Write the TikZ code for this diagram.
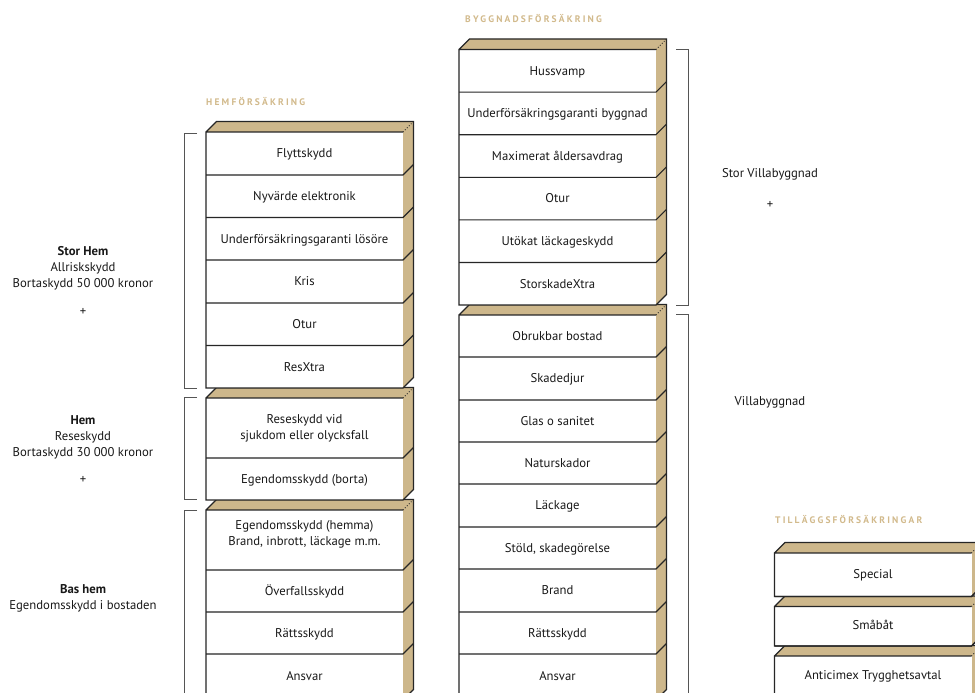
\documentclass[tikz,border=0pt]{standalone}
\usepackage{fontspec}
\setmainfont{PT Sans}
\definecolor{tanc}{RGB}{205,183,139}
\definecolor{headc}{RGB}{210,186,140}
\definecolor{edge}{RGB}{38,38,38}
\definecolor{txt}{RGB}{25,25,25}
\definecolor{brkc}{RGB}{85,85,85}
\def\boxw{197}
\def\boxd{10.5}
\newcommand\stackgrp[4]{%
  \fill[tanc] (#1,#2) -- ++(\boxd,-\boxd) -- ++(\boxw,0) -- (#1+\boxw+\boxd,#3-\boxd) -- (#1+\boxw,#3) -- (#1+\boxw,#2) -- cycle;
  \fill[white] (#1,#2) rectangle (#1+\boxw,#3);
  \foreach \s in {#4} {\draw[box] (#1,\s) -- (#1+\boxw,\s) -- ++(\boxd,-\boxd);}
  \draw[box] (#1+\boxw,#2) -- (#1,#2) -- (#1,#3) -- (#1+\boxw,#3) -- ++(\boxd,-\boxd) -- (#1+\boxw+\boxd,#2-\boxd) -- (#1+\boxd,#2-\boxd) -- (#1,#2);
  \draw[dotted,line width=0.8pt,edge] (#1+\boxw,#2) -- ++(\boxd,-\boxd);
}
\begin{document}
\begin{tikzpicture}[x=1pt,y=-1pt,
  box/.style={line width=1.1pt,draw=edge,line join=miter},
  lbl/.style={font=\fontsize{12.7}{16}\selectfont,text=txt,align=center,inner sep=0,text height=8.8,text depth=0},
  lbl2/.style={lbl,text height=24.8},
  lbl3/.style={lbl,text height=40.8},
  head/.style={font=\fontsize{9.5}{11}\selectfont\bfseries\addfontfeature{LetterSpace=23},text=headc,anchor=west,inner sep=0,text height=6.6,text depth=0},
  brk/.style={draw=brkc,line width=0.9pt}]
\useasboundingbox (0,0) rectangle (975,693);
\fill[white] (0,0) rectangle (975,693);

% Hemförsäkring stack
\stackgrp{206}{510}{700}{570,612,654}
\stackgrp{206}{398}{500}{458}
\stackgrp{206}{132}{388}{175,217.5,260,303,345.5}
% Byggnadsförsäkring stack
\stackgrp{459}{315}{700}{357,400,442,484,527,569,612,654}
\stackgrp{459}{49.5}{305}{92.1,134.7,177.3,219.9,262.5}
% Tilläggsförsäkringar
\stackgrp{774.5}{656}{700}{700}
\stackgrp{774.5}{606.5}{646}{646}
\stackgrp{774.5}{553}{596.5}{596.5}

% headings
\node[head] (hh) at (206,102) {HEMFÖRSÄKRING};
\node[head] (hb) at (465,19) {BYGGNADSFÖRSÄKRING};
\node[head] (ht) at (775,520) {TILLÄGGSFÖRSÄKRINGAR};

% Hem rows
\node[lbl] (h1) at (304.5,153.5) {Flyttskydd};
\node[lbl] (h2) at (304.5,196.2) {Nyvärde elektronik};
\node[lbl] (h3) at (304.5,238.7) {Underförsäkringsgaranti lösöre};
\node[lbl] (h4) at (304.5,281.5) {Kris};
\node[lbl] (h5) at (304.5,324.2) {Otur};
\node[lbl] (h6) at (304.5,366.7) {ResXtra};
\node[lbl2] (h7) at (304.5,427) {Reseskydd vid\\sjukdom eller olycksfall};
\node[lbl] (h8) at (304.5,479.5) {Egendomsskydd (borta)};
\node[lbl2] (h9) at (304.5,533) {Egendomsskydd (hemma)\\Brand, inbrott, läckage m.m.};
\node[lbl] (h10) at (304.5,591) {Överfallsskydd};
\node[lbl] (h11) at (304.5,633) {Rättsskydd};
\node[lbl] (h12) at (304.5,676) {Ansvar};

% Byggnad rows
\node[lbl] (b1) at (557.5,71) {Hussvamp};
\node[lbl] (b2) at (557.5,113) {Underförsäkringsgaranti byggnad};
\node[lbl] (b3) at (557.5,156) {Maximerat åldersavdrag};
\node[lbl] (b4) at (557.5,198) {Otur};
\node[lbl] (b5) at (557.5,241) {Utökat läckageskydd};
\node[lbl] (b6) at (557.5,284) {StorskadeXtra};
\node[lbl] (b7) at (557.5,336) {Obrukbar bostad};
\node[lbl] (b8) at (557.5,378) {Skadedjur};
\node[lbl] (b9) at (557.5,421) {Glas o sanitet};
\node[lbl] (b10) at (557.5,463) {Naturskador};
\node[lbl] (b11) at (557.5,505) {Läckage};
\node[lbl] (b12) at (557.5,548) {Stöld, skadegörelse};
\node[lbl] (b13) at (557.5,590) {Brand};
\node[lbl] (b14) at (557.5,633) {Rättsskydd};
\node[lbl] (b15) at (557.5,676) {Ansvar};

% Tillägg rows
\node[lbl] (t1) at (873,574.5) {Special};
\node[lbl] (t2) at (873,625.5) {Småbåt};
\node[lbl] (t3) at (873,675.5) {Anticimex Trygghetsavtal};

% brackets
\draw[brk] (197,133) -- (184.5,133) -- (184.5,388) -- (197,388);
\draw[brk] (197,397) -- (184.5,397) -- (184.5,499.5) -- (197,499.5);
\draw[brk] (197,510) -- (184.5,510) -- (184.5,700);
\draw[brk] (676,49) -- (688,49) -- (688,305) -- (676,305);
\draw[brk] (676,314) -- (688,314) -- (688,700);

% side labels
\node[lbl3] (lsh) at (83,267) {\textbf{Stor Hem}\\Allriskskydd\\Bortaskydd 50 000 kronor};
\node[lbl] (psh) at (83,311.5) {+};
\node[lbl3] (lh) at (83,436) {\textbf{Hem}\\Reseskydd\\Bortaskydd 30 000 kronor};
\node[lbl] (ph) at (83,479) {+};
\node[lbl2] (lb) at (83,597) {\textbf{Bas hem}\\Egendomsskydd i bostaden};
\node[lbl] (lsv) at (770,173) {Stor Villabyggnad};
\node[lbl] (psv) at (770,204) {+};
\node[lbl] (lv) at (770,401) {Villabyggnad};
\end{tikzpicture}
\end{document}
